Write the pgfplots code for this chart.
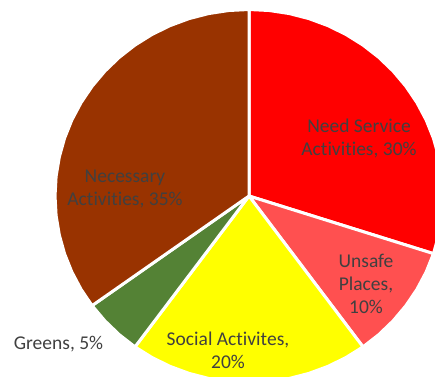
\documentclass[border=0pt]{standalone}
\usepackage{pgfplots}
\pgfplotsset{compat=1.18}
\usepackage{fontspec}
\setmainfont{Carlito}[Ligatures=NoCommon]
\definecolor{cNeed}{HTML}{FF0000}
\definecolor{cUnsafe}{HTML}{FF5050}
\definecolor{cSocial}{HTML}{FFFF00}
\definecolor{cGreen}{HTML}{548235}
\definecolor{cNecessary}{HTML}{993300}
\definecolor{lbl}{HTML}{404040}
\begin{document}
\begin{tikzpicture}[lab/.style={font=\fontsize{19.5}{23}\selectfont, text=lbl, align=center, inner sep=0pt}]
\path[use as bounding box] (0,0) rectangle (435pt,376pt);
\begin{axis}[
  at={(0,0)}, anchor=south west,
  hide axis, scale only axis,
  width=435pt, height=376pt,
  xmin=-239.42, xmax=178.85,
  ymin=-180, ymax=196,
  clip=true,
  every axis plot/.append style={data cs=polar, draw=white, line width=3pt, line join=round},
]
% Need Service Activities, 30% : 90 -> -18
\addplot[fill=cNeed] coordinates {(0,0) (90,186.5) (84,186.5) (78,186.5) (72,186.5) (66,186.5) (60,186.5) (54,186.5) (48,186.5) (42,186.5) (36,186.5) (30,186.5) (24,186.5) (18,186.5) (12,186.5) (6,186.5) (0,186.5) (-6,186.5) (-12,186.5) (-18,186.5)} --cycle;
% Unsafe Places, 10% : -18 -> -54
\addplot[fill=cUnsafe] coordinates {(0,0) (-18,186.5) (-24,186.5) (-30,186.5) (-36,186.5) (-42,186.5) (-48,186.5) (-54,186.5)} --cycle;
% Social Activites, 20% : -54 -> -126
\addplot[fill=cSocial] coordinates {(0,0) (-54,186.5) (-60,186.5) (-66,186.5) (-72,186.5) (-78,186.5) (-84,186.5) (-90,186.5) (-96,186.5) (-102,186.5) (-108,186.5) (-114,186.5) (-120,186.5) (-126,186.5)} --cycle;
% Greens, 5% : -126 -> -144
\addplot[fill=cGreen] coordinates {(0,0) (-126,186.5) (-132,186.5) (-138,186.5) (-144,186.5)} --cycle;
% Necessary Activities, 35% : -144 -> -270
\addplot[fill=cNecessary] coordinates {(0,0) (-144,186.5) (-150,186.5) (-156,186.5) (-162,186.5) (-168,186.5) (-174,186.5) (-180,186.5) (-186,186.5) (-192,186.5) (-198,186.5) (-204,186.5) (-210,186.5) (-216,186.5) (-222,186.5) (-228,186.5) (-234,186.5) (-240,186.5) (-246,186.5) (-252,186.5) (-258,186.5) (-264,186.5) (-270,186.5)} --cycle;

\node[lab] at (rel axis cs:{359/435},{1-138/376}) {Need Service\\Activities, 30\%};
\node[lab] at (rel axis cs:{366/435},{1-284/376}) {Unsafe\\Places,\\10\%};
\node[lab] at (rel axis cs:{228/435},{1-350/376}) {Social Activites,\\20\%};
\node[lab] at (rel axis cs:{58.5/435},{1-344/376}) {Greens, 5\%};
\node[lab] at (rel axis cs:{125/435},{1-189/376}) {Necessary\\Activities, 35\%};
\end{axis}
\end{tikzpicture}
\end{document}
